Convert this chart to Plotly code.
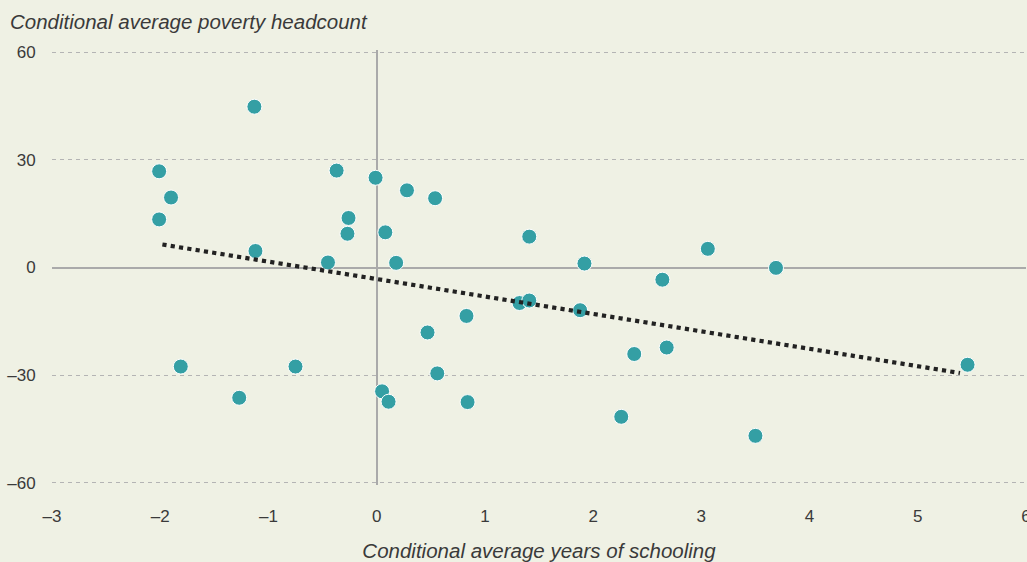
import plotly.graph_objects as go

# Data
schooling = [-1.13, -2.01, -1.90, -2.01, -1.12, -1.81, -1.27, -0.75, -0.37, -0.01,
             0.28, 0.54, -0.26, -0.27, 0.08, -0.45, 0.18, 1.41, 1.92, 3.06,
             3.69, 2.64, 1.32, 1.41, 1.88, 0.83, 0.47, 2.38, 2.68, 0.56,
             0.05, 0.11, 0.84, 2.26, 3.50, 5.46]
poverty = [44.8, 26.8, 19.5, 13.4, 4.6, -27.6, -36.3, -27.6, 27.0, 25.0,
           21.5, 19.3, 13.8, 9.4, 9.8, 1.4, 1.3, 8.6, 1.1, 5.2,
           -0.1, -3.4, -9.9, -9.2, -11.9, -13.5, -18.1, -24.1, -22.3, -29.5,
           -34.5, -37.4, -37.5, -41.6, -46.9, -27.1]

trend_x = [-1.98, 5.39]
trend_y = [6.4, -29.4]

x_ticks = [-3, -2, -1, 0, 1, 2, 3, 4, 5, 6]
y_ticks = [-60, -30, 0, 30, 60]

BG = "#eff1e4"
TEAL = "#349fa4"
TEXT = "#3a3a3a"
FONT = "Liberation Sans"

# plot area: 60 -> px 52.5, -60 -> px 483 ; extend range slightly so edge gridlines draw
pad = 0.6
ppu = (483 - 52.5) / 120.0
top = 52.5 - pad * ppu
bottom = 562 - (483 + pad * ppu)

fig = go.Figure()
fig.add_trace(go.Scatter(
    x=schooling, y=poverty, mode="markers",
    marker=dict(size=15, color=TEAL, line=dict(color="white", width=1)),
    showlegend=False, hoverinfo="skip", cliponaxis=False))
fig.add_trace(go.Scatter(
    x=trend_x, y=trend_y, mode="lines",
    line=dict(color="#222222", width=4.2, dash="dot"),
    showlegend=False, hoverinfo="skip"))

fig.update_layout(
    width=1027, height=562,
    margin=dict(l=52, r=1, t=top, b=bottom),
    paper_bgcolor=BG, plot_bgcolor=BG,
    font=dict(family=FONT, size=17, color=TEXT),
    xaxis=dict(
        range=[-3, 6], tickvals=x_ticks,
        ticktext=[("\u2013" + str(-v)) if v < 0 else str(v) for v in x_ticks],
        showgrid=False, zeroline=True, zerolinecolor="#aaaaaa", zerolinewidth=1.5,
        showline=False, ticks="outside", ticklen=16, tickcolor="rgba(0,0,0,0)",
        ticklabeloverflow="allow",
        title=dict(text="<i>Conditional average years of schooling</i>",
                   font=dict(size=20.5, color=TEXT), standoff=18),
        automargin=False,
    ),
    yaxis=dict(
        range=[-60 - pad, 60 + pad], tickvals=y_ticks,
        ticktext=[("\u2013" + str(-v)) if v < 0 else str(v) for v in y_ticks],
        showgrid=True, gridcolor="#b4b4b4", gridwidth=1, griddash="4px,4px",
        zeroline=True, zerolinecolor="#aaaaaa", zerolinewidth=1.5,
        showline=False, ticks="outside", ticklen=12, tickcolor="rgba(0,0,0,0)",
        automargin=False,
    ),
    annotations=[dict(
        text="<i>Conditional average poverty headcount</i>",
        xref="paper", yref="paper", x=-52/974, y=1, xanchor="left", yanchor="bottom",
        xshift=8, yshift=15, showarrow=False,
        font=dict(size=20.5, color=TEXT))],
)

fig.write_html(
    "out.html",
    config={"displayModeBar": False},
    post_script="document.body.style.margin='0';document.body.style.background='%s';" % BG,
)
